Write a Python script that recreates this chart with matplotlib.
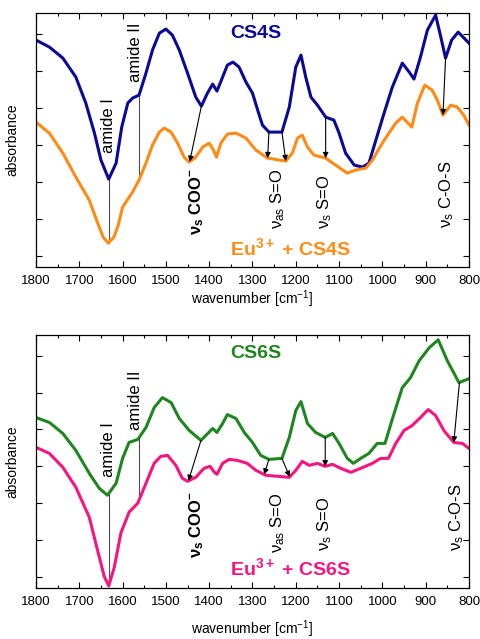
import numpy as np
import matplotlib
matplotlib.use('Agg')
import matplotlib.pyplot as plt
from matplotlib.ticker import MultipleLocator

plt.rcParams['font.family'] = ['Liberation Sans', 'DejaVu Sans']
plt.rcParams['mathtext.default'] = 'regular'

# spectra (arbitrary absorbance units)
wn_cs4s = [1800, 1769, 1738, 1708, 1685, 1665, 1650, 1632, 1615, 1602, 1588, 1577, 1562, 1546,
           1531, 1515, 1500, 1485, 1469, 1450, 1431, 1418, 1404, 1392, 1382, 1369, 1358, 1345,
           1331, 1315, 1300, 1288, 1277, 1262, 1232, 1215, 1200, 1188, 1177, 1165, 1150, 1131,
           1112, 1100, 1085, 1065, 1046, 1031, 1015, 996, 977, 954, 938, 927, 912, 896, 877,
           865, 854, 840, 825, 800]
ab_cs4s = [227, 220, 209, 190, 164, 134, 107, 88, 104, 140, 164, 169, 172, 194,
           217, 234, 238, 232, 217, 194, 170, 161, 174, 183, 176, 190, 202, 205,
           200, 185, 174, 157, 142, 135, 135, 160, 200, 212, 190, 170, 162, 150,
           147, 134, 114, 102, 100, 104, 127, 154, 180, 204, 195, 188, 210, 237, 252,
           230, 209, 227, 235, 224]

wn_eu_cs4s = [1800, 1769, 1738, 1708, 1677, 1660, 1645, 1633, 1620, 1610, 1600, 1577, 1562,
              1546, 1531, 1515, 1504, 1488, 1473, 1458, 1446, 1431, 1415, 1400, 1390, 1383,
              1373, 1358, 1338, 1315, 1292, 1265, 1223, 1208, 1196, 1185, 1173, 1158, 1131,
              1108, 1081, 1062, 1038, 1023, 1000, 985, 969, 954, 932, 919, 902, 885, 873,
              860, 842, 827, 812, 800]
ab_eu_cs4s = [145, 134, 114, 90, 67, 47, 30, 24, 30, 42, 60, 75, 87,
              104, 122, 135, 139, 135, 124, 110, 105, 110, 120, 124, 117, 110,
              124, 133, 134, 129, 117, 109, 106, 114, 129, 132, 120, 112, 109,
              102, 94, 97, 99, 107, 124, 134, 144, 150, 140, 164, 182, 177, 167,
              152, 162, 160, 152, 142]

wn_cs6s = [1800, 1769, 1738, 1708, 1677, 1654, 1635, 1615, 1600, 1585, 1565, 1546, 1527, 1508,
           1488, 1469, 1446, 1419, 1392, 1382, 1369, 1358, 1338, 1319, 1300, 1281, 1262, 1232,
           1215, 1200, 1188, 1173, 1154, 1132, 1115, 1100, 1081, 1067, 1050, 1031, 1012, 994,
           973, 954, 935, 915, 892, 871, 850, 823, 800]
ab_cs6s = [171, 166, 155, 138, 115, 100, 93, 105, 130, 146, 149, 161, 181, 191,
           186, 170, 158, 148, 160, 156, 165, 174, 170, 156, 146, 133, 129, 130,
           151, 178, 187, 165, 156, 151, 155, 145, 130, 125, 130, 135, 145, 145,
           175, 201, 211, 228, 241, 249, 228, 206, 210]

wn_eu_cs6s = [1800, 1769, 1738, 1708, 1677, 1658, 1642, 1632, 1619, 1604, 1585, 1565, 1546,
              1527, 1512, 1496, 1477, 1462, 1450, 1431, 1412, 1398, 1388, 1382, 1369, 1354,
              1335, 1312, 1292, 1269, 1215, 1200, 1185, 1169, 1150, 1132, 1115, 1096, 1073,
              1050, 1023, 1004, 986, 969, 950, 931, 912, 894, 877, 858, 835, 815, 800]
ab_eu_cs6s = [141, 135, 121, 101, 71, 38, 11, 2, 21, 55, 76, 85, 105,
              125, 132, 133, 123, 110, 107, 111, 120, 122, 116, 114, 125, 129,
              128, 125, 118, 113, 111, 118, 127, 123, 125, 122, 124, 120, 116,
              120, 125, 130, 130, 145, 158, 163, 171, 179, 173, 158, 146, 145, 140]

# band assignments: (wavenumber on upper curve, wavenumber on lower curve)
arrows_top = [(1418, 1445), (1262, 1265), (1232, 1223), (1131, 1131), (854, 860)]
arrows_bot = [(1419, 1448), (1262, 1273), (1232, 1214), (1132, 1132), (822, 835)]
amide_lines = [1632, 1563]

c_blue = '#0a0a96'
c_orange = '#ff8a14'
c_green = '#1f861f'
c_pink = '#f7147e'

fig = plt.figure(figsize=(4.8, 6.39), dpi=100)
ax1 = fig.add_axes([0.075, 0.582, 0.902, 0.3975])
ax2 = fig.add_axes([0.075, 0.080, 0.902, 0.396])


def draw_panel(ax, wn_up, ab_up, wn_lo, ab_lo, col_up, col_lo, name, arrows, lab):
    ax.plot(wn_up, ab_up, color=col_up, lw=2.2, solid_joinstyle='round')
    ax.plot(wn_lo, ab_lo, color=col_lo, lw=2.2, solid_joinstyle='round')
    up = lambda w: np.interp(w, wn_up[::-1], ab_up[::-1])
    lo = lambda w: np.interp(w, wn_lo[::-1], ab_lo[::-1])
    for w in amide_lines:
        ax.plot([w, w], [up(w), lo(w)], color='0.3', lw=0.8, zorder=1)
    for w1, w2 in arrows:
        ax.annotate('', xy=(w2, lo(w2)), xytext=(w1, up(w1)),
                    arrowprops=dict(arrowstyle='-|>', color='black', lw=0.8,
                                    mutation_scale=8, shrinkA=0, shrinkB=0))
    ax.text(1632, lab['amide1'], 'amide I', rotation=90, ha='center', va='bottom', fontsize=12)
    ax.text(1571, lab['amide2'], 'amide II', rotation=90, ha='center', va='bottom', fontsize=12)
    ax.text(1429, lab['coo'], 'ν$_{s}$ COO$^{-}$', rotation=90, ha='center', va='top',
            fontsize=12, fontweight='bold')
    ax.text(1241, lab['sas'], 'ν$_{as}$ S=O', rotation=90, ha='center', va='top', fontsize=12)
    ax.text(1133, lab['ss'], 'ν$_{s}$ S=O', rotation=90, ha='center', va='top', fontsize=12)
    ax.text(lab['cos_x'], lab['cos'], 'ν$_{s}$ C-O-S', rotation=90, ha='center', va='top',
            fontsize=12)
    ax.text(1352, lab['name_y'], name, color=col_up, fontsize=14, fontweight='bold',
            ha='left', va='center')
    ax.text(1352, lab['eu_y'], 'Eu$^{3+}$ + ' + name, color=col_lo, fontsize=14,
            fontweight='bold', ha='left', va='center')

    ax.set_xlim(1800, 800)
    ax.set_ylim(0, 254)
    ax.xaxis.set_major_locator(MultipleLocator(100))
    ax.xaxis.set_minor_locator(MultipleLocator(50))
    ax.set_yticks(np.arange(11, 254, 37))
    ax.set_yticklabels([])
    ax.tick_params(which='both', direction='in', top=True, right=True, width=0.8)
    ax.tick_params(which='major', length=4, labelsize=9.5, pad=6)
    ax.tick_params(which='minor', length=2.5)
    for s in ax.spines.values():
        s.set_linewidth(0.9)
    ax.set_ylabel('absorbance', fontsize=10, labelpad=6)


draw_panel(ax1, wn_cs4s, ab_cs4s, wn_eu_cs4s, ab_eu_cs4s, c_blue, c_orange, 'CS4S', arrows_top,
           dict(amide1=114, amide2=185, coo=99, sas=99, ss=92, cos_x=851, cos=107,
                name_y=234, eu_y=19))
draw_panel(ax2, wn_cs6s, ab_cs6s, wn_eu_cs6s, ab_eu_cs6s, c_green, c_pink, 'CS6S', arrows_bot,
           dict(amide1=111, amide2=158, coo=98, sas=96, ss=91, cos_x=828, cos=105,
                name_y=235, eu_y=20))
ax1.set_xlabel('wavenumber [cm$^{-1}$]', fontsize=10, labelpad=1)
ax2.set_xlabel('wavenumber [cm$^{-1}$]', fontsize=10, labelpad=7)

fig.savefig('out.png', dpi=100)
